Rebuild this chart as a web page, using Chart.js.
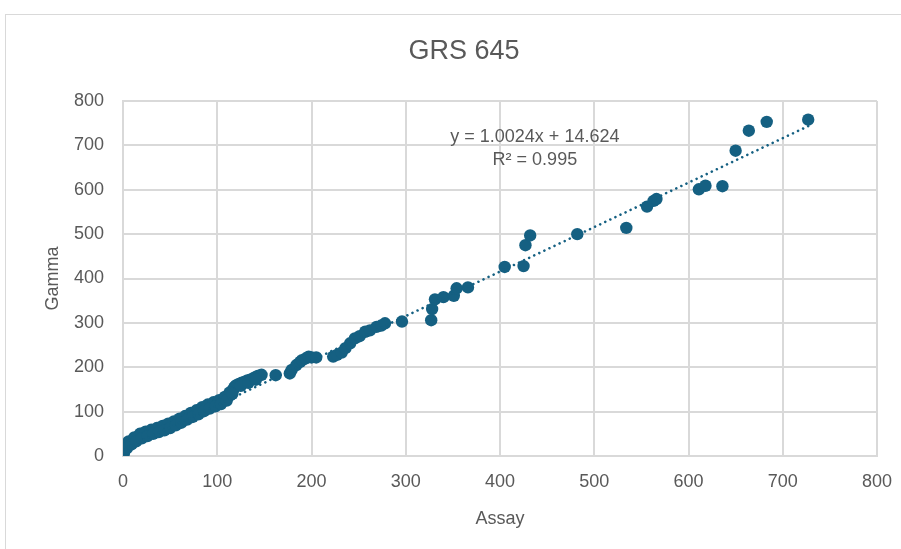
<!DOCTYPE html>
<html>
<head>
<meta charset="utf-8">
<script src="https://cdn.jsdelivr.net/npm/chart.js@4"></script>
<style>
  html, body { margin: 0; padding: 0; background: #ffffff; overflow: hidden; }
  #wrap { position: relative; width: 901px; height: 549px; }
  #frame { position: absolute; left: 5px; top: 14px; width: 1000px; height: 1000px; border: 1px solid #d9d9d9; box-sizing: border-box; }
  #c { position: absolute; left: 0; top: 0; }
</style>
</head>
<body>
<div id="wrap">
  <div id="frame"></div>
  <canvas id="c" width="901" height="549"></canvas>
</div>
<script>
// ---- data ----
const chartTitle = 'GRS 645';
const xAxisTitle = 'Assay';
const yAxisTitle = 'Gamma';
const xTicks = [0, 100, 200, 300, 400, 500, 600, 700, 800];
const yTicks = [0, 100, 200, 300, 400, 500, 600, 700, 800];

const assay = [
  0.3, 0.5, 1, 1.5, 2, 2.5, 3, 4, 5, 6, 7, 8, 9, 10, 11, 12, 13, 14, 15, 16, 17, 18, 19, 20,
  22, 24, 26, 28, 30, 32, 34, 36, 38, 40, 42, 44, 46, 48, 50, 52, 54, 56, 58, 60, 62, 64, 66,
  68, 70, 72, 74, 76, 78, 80, 82, 84, 86, 88, 90, 92, 94, 96, 98, 100, 102, 104, 106, 108, 110,
  112, 114, 115, 116, 117, 118, 119, 120, 122, 124, 126, 128, 130, 132, 135, 138, 140, 142, 144, 147,
  2, 6, 12, 18, 24, 30, 36, 42, 48, 54, 60, 66, 72, 78, 84, 90, 96, 102, 108, 113,
  4, 9, 14, 20, 26, 32, 38, 44, 50, 56, 62, 68, 74, 80, 86, 92, 98, 104, 110, 116, 125, 133, 141,
  162, 177, 179, 184, 188, 190, 194, 197, 200, 205,
  223, 227, 232, 236, 241, 246, 251, 257, 262, 269, 274, 278,
  296, 327, 328, 331, 340, 351, 354, 366,
  405, 425, 427, 432, 482, 534, 556, 563, 566,
  611, 618, 636, 650, 664, 683, 727
];
const gamma = [
  3, 5, 9, 12, 14, 17, 19, 22, 24, 27, 28, 30, 31, 33, 34, 36, 37, 38, 40, 41, 42, 44, 45, 45,
  47, 49, 50, 52, 53, 55, 56, 57, 59, 60, 62, 63, 65, 67, 68, 70, 72, 74, 76, 78, 80, 82, 84,
  87, 89, 91, 93, 95, 97, 99, 102, 104, 106, 108, 110, 112, 113, 115, 117, 118, 120, 122, 124, 127, 130,
  134, 138, 141, 146, 150, 154, 157, 159, 161, 163, 165, 166, 168, 170, 172, 175, 177, 179, 181, 183,
  22, 33, 42, 50, 55, 59, 63, 68, 73, 78, 84, 90, 97, 103, 110, 116, 121, 126, 133, 143,
  17, 26, 33, 40, 45, 50, 54, 58, 63, 69, 75, 82, 88, 94, 101, 107, 112, 117, 125, 140, 158, 165, 172,
  182, 186, 194, 205, 212, 216, 220, 224, 222, 222,
  224, 228, 233, 243, 254, 265, 270, 280, 283, 291, 294, 299,
  303, 306, 331, 353, 358, 361, 378, 380,
  426, 428, 475, 497, 500, 514, 562, 575, 579,
  601, 609, 608, 688, 733, 753, 758
];

// linear trendline shown on the chart
const trendSlope = 1.0024;
const trendIntercept = 14.624;
const trendLabel = ['y = 1.0024x + 14.624', 'R² = 0.995'];

// ---- build ----
const points = assay.map((v, i) => ({ x: v, y: gamma[i] }));
const xMin = Math.min(...assay), xMax = Math.max(...assay);
const trendPts = [
  { x: xMin, y: trendSlope * xMin + trendIntercept },
  { x: xMax, y: trendSlope * xMax + trendIntercept }
];

const FONT = "'Liberation Sans', Arial, sans-serif";
const TXT = '#595959';
const GRID = '#d9d9d9';
const MARK = '#156082';

const textPlugin = {
  id: 'texts',
  afterDatasetsDraw(chart) {
    const { ctx, scales } = chart;
    ctx.save();
    ctx.fillStyle = TXT;
    ctx.textAlign = 'center';
    ctx.textBaseline = 'middle';
    // trendline equation
    ctx.font = "18px " + FONT;
    const x = scales.x.getPixelForValue(437);
    ctx.fillText(trendLabel[0], x, scales.y.getPixelForValue(719));
    ctx.fillText(trendLabel[1], x, scales.y.getPixelForValue(667));
    // chart title
    ctx.font = "27px " + FONT;
    ctx.fillText(chartTitle, 464, 52);
    ctx.restore();
  }
};

new Chart(document.getElementById('c'), {
  type: 'scatter',
  data: {
    datasets: [
      {
        label: 'Trend',
        type: 'line',
        data: trendPts,
        borderColor: MARK,
        borderWidth: 2.6,
        borderDash: [0.01, 5.6],
        borderCapStyle: 'round',
        pointRadius: 0,
        fill: false,
        order: 0
      },
      {
        label: 'GRS 645',
        data: points,
        backgroundColor: MARK,
        borderColor: MARK,
        borderWidth: 0,
        pointRadius: 6.2,
        pointHoverRadius: 6.2,
        order: 1
      }
    ]
  },
  options: {
    responsive: false,
    animation: false,
    devicePixelRatio: 1,
    layout: { padding: { left: 0, right: 24, top: 101, bottom: 0 } },
    plugins: {
      legend: { display: false },
      tooltip: { enabled: false },
      title: { display: false }
    },
    scales: {
      x: {
        type: 'linear',
        min: 0, max: 800,
        afterBuildTicks(s) { s.ticks = xTicks.map(v => ({ value: v })); },
        afterFit(s) { s.height = 93; s.paddingLeft = 0; s.paddingRight = 0; },
        ticks: { color: TXT, font: { family: FONT, size: 18 }, padding: 15 },
        grid: { color: GRID, lineWidth: 2, drawTicks: false },
        border: { display: true, color: GRID, width: 2 },
        title: { display: true, text: xAxisTitle, color: TXT, font: { family: FONT, size: 18 }, padding: { top: 0, bottom: 19 } }
      },
      y: {
        type: 'linear',
        min: 0, max: 800,
        afterBuildTicks(s) { s.ticks = yTicks.map(v => ({ value: v })); },
        afterFit(s) { s.width = 123; s.paddingTop = 0; s.paddingBottom = 0; },
        ticks: { color: TXT, font: { family: FONT, size: 18 }, padding: 19 },
        grid: { color: GRID, lineWidth: 2, drawTicks: false },
        border: { display: true, color: GRID, width: 2 },
        title: { display: true, text: yAxisTitle, color: TXT, font: { family: FONT, size: 18 }, padding: { top: 42, bottom: 0 } }
      }
    }
  },
  plugins: [textPlugin]
});
</script>
</body>
</html>
